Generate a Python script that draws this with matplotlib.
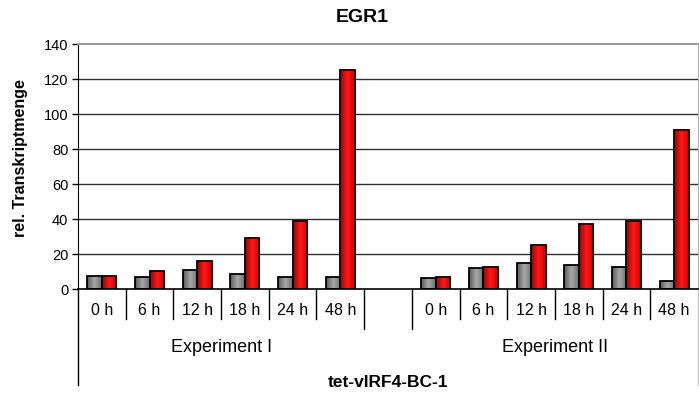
import numpy as np
import matplotlib
matplotlib.use("Agg")
import matplotlib.pyplot as plt
from matplotlib.colors import LinearSegmentedColormap
from matplotlib.transforms import blended_transform_factory

plt.rcParams['font.family'] = ['Liberation Sans', 'DejaVu Sans']

# EGR1 expression, two experiments, time course
times = ['0 h', '6 h', '12 h', '18 h', '24 h', '48 h']
experiments = ['Experiment I', 'Experiment II']
exp1_ctrl = [7.5, 7, 11, 9, 7, 7]
exp1_ind = [7.5, 10.5, 16, 29.5, 39, 125]
exp2_ctrl = [6.5, 12, 15, 14, 12.5, 5]
exp2_ind = [7, 13, 25.5, 37.5, 39, 91]

# one empty slot between the two experiments
ctrl = exp1_ctrl + [np.nan] + exp2_ctrl
ind = exp1_ind + [np.nan] + exp2_ind
labels = times + [''] + times
x = np.arange(len(ctrl))

fig = plt.figure(figsize=(6.99, 3.99), dpi=100)
ax = fig.add_axes([78 / 699, 1 - 289.3 / 399, 620 / 699, 245.3 / 399])

w = 0.305
gray_cm = LinearSegmentedColormap.from_list('g', ['#5a5a5a', '#a8a8a8', '#6e6e6e'])
red_cm = LinearSegmentedColormap.from_list('r', ['#a00000', '#ff1a1a', '#d00000'])
grad = np.linspace(0, 1, 64).reshape(1, -1)


def shaded_bars(xs, vals, cmap):
    bars = ax.bar(xs, vals, width=w, facecolor='none', edgecolor='black',
                  linewidth=1.3, zorder=3)
    for b in bars:
        h = b.get_height()
        if not np.isfinite(h):
            continue
        x0 = b.get_x()
        im = ax.imshow(grad, cmap=cmap, aspect='auto', extent=(x0, x0 + w, 0, h),
                       zorder=2.5, interpolation='bilinear')
        im.set_clip_path(b)


shaded_bars(x - w / 2, ctrl, gray_cm)
shaded_bars(x + w / 2, ind, red_cm)

ax.set_xlim(-0.5, len(x) - 0.5)
ax.set_ylim(0, 140)
ax.set_yticks(np.arange(0, 141, 20))
ax.tick_params(axis='y', labelsize=10.5, length=4, width=1, direction='out', pad=3)
for yv in range(20, 140, 20):
    ax.axhline(yv, color='#303030', lw=1, zorder=1)

ax.spines['left'].set_color('black')
ax.spines['bottom'].set_color('black')
ax.spines['bottom'].set_linewidth(1.2)
ax.spines['top'].set_color('#9a9a9a')
ax.spines['top'].set_linewidth(1.5)
ax.spines['right'].set_color('#b0b0b0')

ax.set_xticks([])
tr = blended_transform_factory(ax.transData, ax.transAxes)
px = 1 / 245.3  # one pixel in axes fraction (vertical)

# time labels and separators below the axis
for xi, lab in zip(x, labels):
    ax.text(xi, -21 * px, lab, transform=tr, ha='center', va='center', fontsize=11.5)
for k in range(1, len(x)):
    bottom = -40 * px if k in (6, 7) else -30 * px
    ax.plot([k - 0.5, k - 0.5], [0, bottom], transform=tr, color='black', lw=1,
            clip_on=False)

# experiment names
ax.text(2.5, -58 * px, experiments[0], transform=tr, ha='center', va='center', fontsize=13)
ax.text(9.5, -58 * px, experiments[1], transform=tr, ha='center', va='center', fontsize=13)

# axis lines running down past the label rows
ax.plot([0, 0], [0, -96 * px], transform=ax.transAxes, color='black', lw=1, clip_on=False)
ax.plot([1, 1], [0, -96 * px], transform=ax.transAxes, color='#c8c8c8', lw=1, clip_on=False)

ax.text(0.5, -93 * px, 'tet-vIRF4-BC-1', transform=ax.transAxes, ha='center',
        va='center', fontsize=12.5, fontweight='bold')
fig.text(21 / 699, 1 - 158 / 399, 'rel. Transkriptmenge', rotation=90, ha='center',
         va='center', fontsize=11.5, fontweight='bold')
fig.text(362 / 699, 1 - 17 / 399, 'EGR1', ha='center', va='center', fontsize=14,
         fontweight='bold')

fig.savefig('out.png', dpi=100)
